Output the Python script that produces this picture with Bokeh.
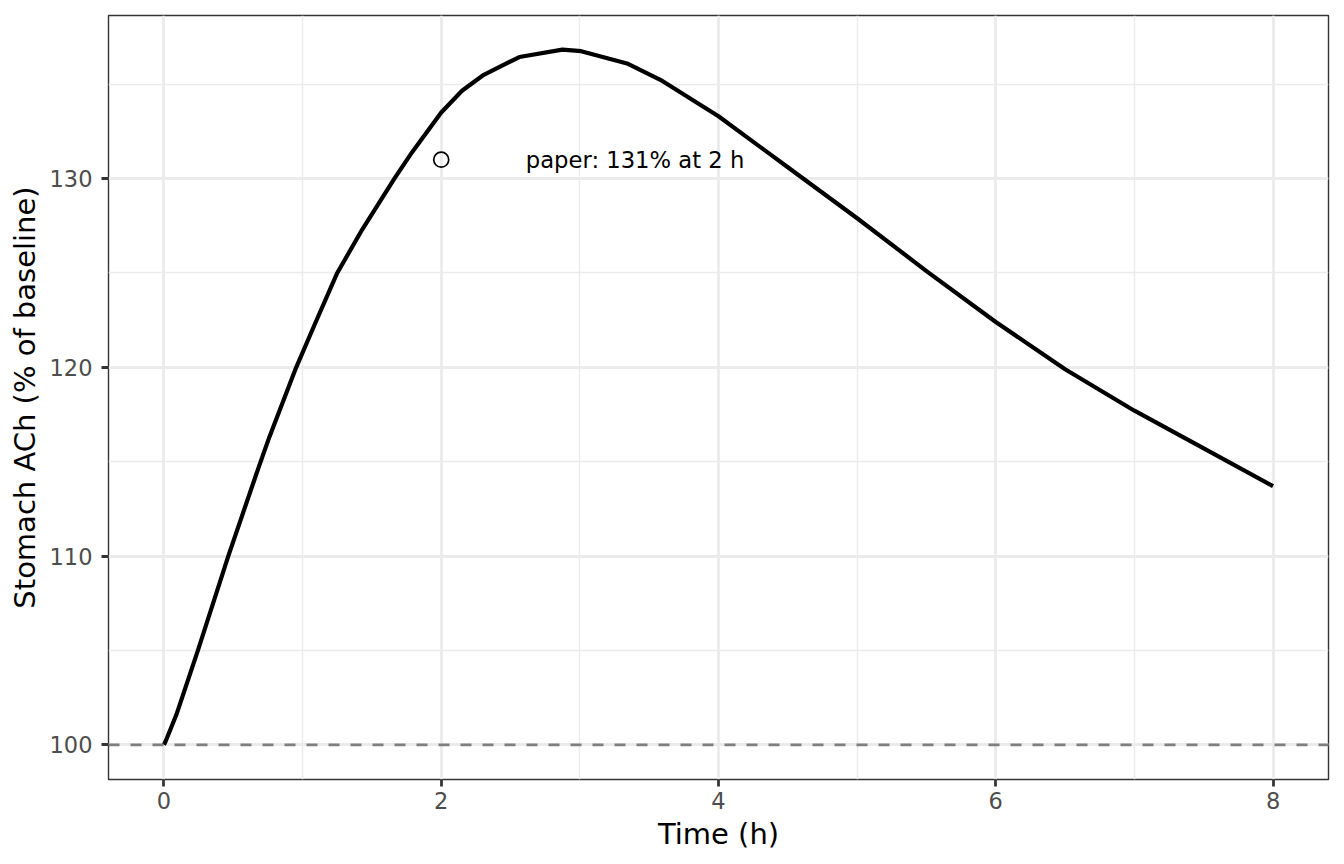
from bokeh.plotting import figure
from bokeh.models import Range1d, FixedTicker, Span, ColumnDataSource
from bokeh.core.properties import value
from bokeh.embed import file_html
from bokeh.resources import INLINE

# ---- data ----
time_h = [0.0, 0.013, 0.09, 0.245, 0.464, 0.683, 0.76, 0.954, 1.095, 1.25, 1.43,
          1.662, 1.79, 2.0, 2.15, 2.307, 2.564, 2.874, 3.01, 3.34, 3.595, 4.0,
          4.5, 5.0, 5.5, 6.0, 6.5, 7.0, 7.5, 8.0]
ach_pct = [100.0, 100.2, 101.6, 105.0, 110.0, 114.7, 116.3, 120.0, 122.4, 125.0, 127.3,
           130.0, 131.4, 133.5, 134.65, 135.5, 136.44, 136.83, 136.75, 136.1, 135.17, 133.3,
           130.6, 127.9, 125.1, 122.4, 119.9, 117.7, 115.7, 113.7]
paper_time = [2]
paper_val = [131]
paper_label = ["paper: 131% at 2 h"]
x_ticks = [0, 2, 4, 6, 8]
x_minor = [1, 3, 5, 7]
y_ticks = [100, 110, 120, 130]
y_minor = [105, 115, 125, 135]
baseline = 100

FONT = "DejaVu Sans"

p = figure(width=1336, height=860, output_backend="svg", toolbar_location=None,
           x_range=Range1d(-0.4, 8.4), y_range=Range1d(98.16, 138.64),
           min_border_left=108, min_border_right=8, min_border_top=15, min_border_bottom=81)

p.background_fill_color = "white"
p.border_fill_color = "white"
p.outline_line_color = "#333333"
p.outline_line_width = 1.4

# grid
for g in (p.xgrid[0], p.ygrid[0]):
    g.grid_line_color = "#EBEBEB"
    g.grid_line_width = 2.77
    g.minor_grid_line_color = "#EBEBEB"
    g.minor_grid_line_width = 1.39

p.xaxis.ticker = FixedTicker(ticks=x_ticks, minor_ticks=x_minor)
p.yaxis.ticker = FixedTicker(ticks=y_ticks, minor_ticks=y_minor)

for ax in (p.xaxis[0], p.yaxis[0]):
    ax.axis_line_color = None
    ax.major_tick_line_color = "#333333"
    ax.major_tick_line_width = 2.77
    ax.major_tick_out = 7
    ax.major_tick_in = 0
    ax.minor_tick_line_color = None
    ax.major_label_text_font = FONT
    ax.major_label_text_font_size = "22.5px"
    ax.major_label_text_color = "#4D4D4D"
    ax.axis_label_text_font = FONT
    ax.axis_label_text_font_size = "29px"
    ax.axis_label_text_font_style = "normal"
    ax.axis_label_text_color = "black"

p.xaxis.axis_label = "Time (h)"
p.yaxis.axis_label = "Stomach ACh (% of baseline)"
p.xaxis.major_label_standoff = 5
p.xaxis.axis_label_standoff = 5
p.yaxis.major_label_standoff = 9
p.yaxis.axis_label_standoff = 5

# dashed baseline
p.add_layout(Span(location=baseline, dimension="width", line_color="#7F7F7F",
                  line_width=2.77, line_dash="11 11"))

src = ColumnDataSource(data=dict(t=time_h, v=ach_pct))
p.line("t", "v", source=src, line_color="black", line_width=4.2, line_join="round")

psrc = ColumnDataSource(data=dict(t=paper_time, v=paper_val, lab=paper_label))
p.scatter("t", "v", source=psrc, marker="circle", size=15, fill_color=None,
          line_color="black", line_width=1.7)
p.text(x=[2.61], y=paper_val, text=paper_label, text_font=value(FONT),
       text_font_size="22.7px", text_align="left", text_baseline="middle", text_color="black")

open("out.html", "w").write(file_html(p, INLINE))
